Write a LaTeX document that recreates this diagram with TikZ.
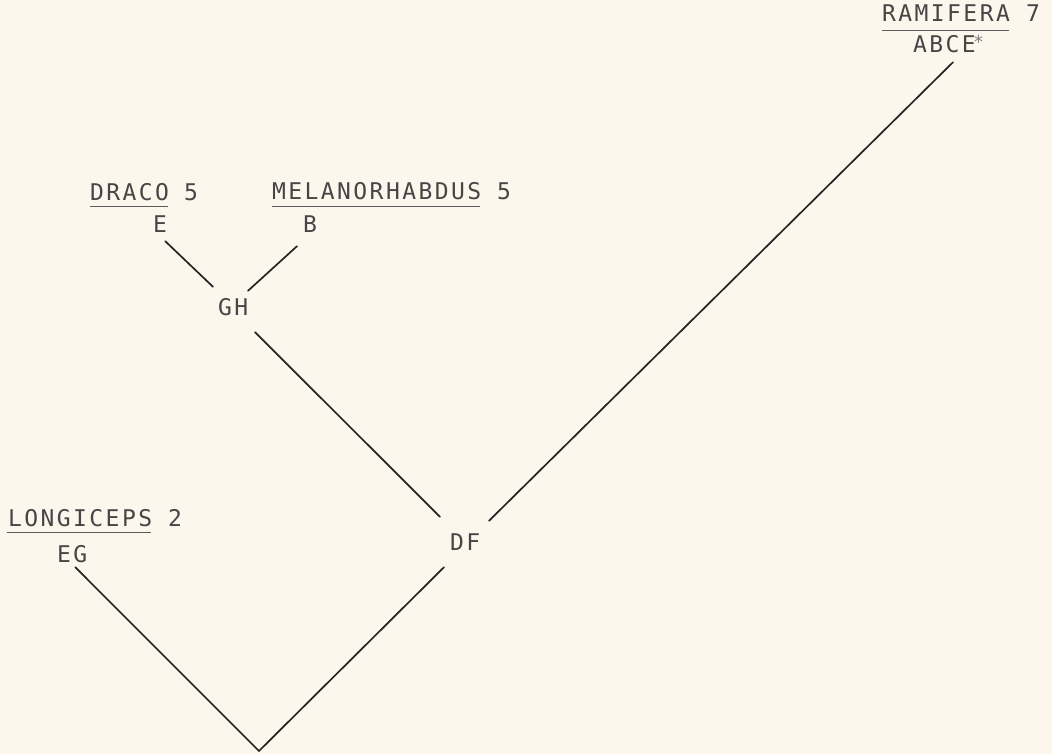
\documentclass[tikz,border=0pt]{standalone}
\usepackage{fontspec}
\newfontfamily\typ[LetterSpace=10.5]{DejaVu Sans Mono}
\definecolor{bg}{RGB}{253,246,237}
\definecolor{ink}{RGB}{38,36,36}
\begin{document}
\begin{tikzpicture}[x=1pt,y=-1pt,
  lbl/.style={inner sep=0pt, anchor=base west, text height=17pt, text depth=0pt,
    font=\typ\fontsize{23}{23}\selectfont, text=ink!85},
  astx/.style={inner sep=0pt, anchor=base west, font=\typ\fontsize{18}{18}\selectfont, text=ink!60},
  ul/.style={line width=1.1pt, draw=ink!75},
  br/.style={line width=1.7pt, draw=ink, line cap=round}]
\fill[bg] (0,0) rectangle (1052,754);
\useasboundingbox (0,0) rectangle (1052,754);

% labels
\node[lbl] (ram) at (882,22) {RAMIFERA};
\node[lbl] (ram7) at (1026,22) {7};
\node[lbl] (abce) at (913,53) {ABCE};
\node[astx] (ast) at (973,49) {*};
\node[lbl] (draco) at (90,201) {DRACO};
\node[lbl] (draco5) at (184,201) {5};
\node[lbl] (e) at (153,233) {E};
\node[lbl] (mel) at (272,200) {MELANORHABDUS};
\node[lbl] (mel5) at (497,200) {5};
\node[lbl] (b) at (303,233) {B};
\node[lbl] (gh) at (218,315) {GH};
\node[lbl] (long) at (8,526) {LONGICEPS};
\node[lbl] (long2) at (168,526) {2};
\node[lbl] (eg) at (57,562) {EG};
\node[lbl] (df) at (450,550) {DF};
\coordinate (root) at (259,751);

% underlines
\draw[ul] ([shift={(0,8)}]ram.south west) -- ([shift={(-1.5,8)}]ram.south east);
\draw[ul] ([shift={(0,5)}]draco.south west) -- ([shift={(-1.5,5)}]draco.south east);
\draw[ul] ([shift={(0,6)}]mel.south west) -- ([shift={(-1.5,6)}]mel.south east);
\draw[ul] ([shift={(-1,6)}]long.south west) -- ([shift={(-1.5,6)}]long.south east);

% branches
\draw[br] ([shift={(-2,8)}]e.south east) -- ([shift={(-5,-11)}]gh.north west);
\draw[br] ([shift={(-6,13)}]b.south west) -- ([shift={(-0.5,-7)}]gh.north east);
\draw[br] ([shift={(6.5,17)}]gh.south east) -- ([shift={(-10,-16)}]df.north west);
\draw[br] ([shift={(8.5,-12)}]df.north east) -- ([shift={(8.5,9)}]abce.south);
\draw[br] ([shift={(-6,17)}]df.south west) -- (root);
\draw[br] ([shift={(3,5)}]eg.south) -- (root);
\end{tikzpicture}
\end{document}
